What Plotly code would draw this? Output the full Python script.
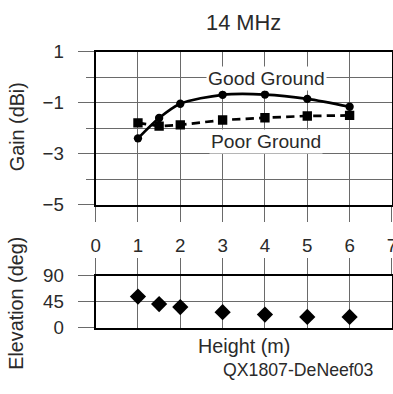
import plotly.graph_objects as go

# Antenna height (m) for each modelled point
heights = [1, 1.5, 2, 3, 4, 5, 6]
# Maximum gain (dBi) over good and poor ground
gain_good = [-2.4, -1.6, -1.04, -0.69, -0.68, -0.85, -1.16]
gain_poor = [-1.79, -1.92, -1.87, -1.68, -1.59, -1.52, -1.5]
# Elevation angle of maximum radiation (deg)
elevation = [54, 41, 36, 27, 23, 19, 19]

gain_ticks = [1, -1, -3, -5]
elev_ticks = [0, 45, 90]
height_ticks = [0, 1, 2, 3, 4, 5, 6, 7]

# Layout is laid out on a 393 x 394 design grid; the page keeps the
# default 8 px body margin, so the figure is scaled to fill 409 x 410.
DESIGN_W, DESIGN_H = 393, 394
OFF = 8
S = (DESIGN_W + 2 * OFF) / DESIGN_W
W, H = DESIGN_W + OFF, DESIGN_H + OFF
FONT = "Liberation Sans, Arial, sans-serif"
TEXT = "#2a2a2a"
GRID = "#6a6a6a"


def px(x):
    """Design x pixel -> paper fraction."""
    return (x * S - OFF) / W


def py(y):
    """Design y pixel -> paper fraction (measured from the top)."""
    return 1 - (y * S - OFF) / H


def sz(v):
    return round(v * S, 2)


def isz(v):
    return int(round(v * S))


fig = go.Figure()

fig.add_trace(go.Scatter(
    x=heights, y=gain_good, mode="lines+markers",
    line=dict(color="black", width=sz(2.6), shape="spline", smoothing=0.8),
    marker=dict(symbol="circle", size=sz(8), color="black"),
    xaxis="x", yaxis="y", showlegend=False))
fig.add_trace(go.Scatter(
    x=heights, y=gain_poor, mode="lines+markers",
    line=dict(color="black", width=sz(2.6), dash=f"{sz(8)}px,{sz(5)}px"),
    marker=dict(symbol="square", size=sz(9), color="black"),
    xaxis="x", yaxis="y", showlegend=False))
fig.add_trace(go.Scatter(
    x=heights, y=elevation, mode="markers",
    marker=dict(symbol="diamond", size=sz(12), color="black"),
    xaxis="x2", yaxis="y2", showlegend=False))

axis_common = dict(showline=True, linecolor="black", linewidth=sz(2), mirror=True,
                   showgrid=True, gridcolor=GRID, gridwidth=1, zeroline=False,
                   tickcolor=GRID, tickwidth=1, ticklabeloverflow="allow",
                   tickfont=dict(family=FONT, size=sz(18), color=TEXT))

fig.update_layout(
    width=W, height=H,
    margin=dict(l=0, r=0, t=0, b=0),
    paper_bgcolor="white", plot_bgcolor="white",
    xaxis=dict(axis_common, domain=[px(97), px(389)], range=[0, 7],
               tickvals=height_ticks, ticks="outside", ticklen=isz(14),
               ticklabelstandoff=isz(8), anchor="y"),
    yaxis=dict(axis_common, domain=[py(205), py(50)], range=[-5, 1],
               tickvals=gain_ticks, ticktext=["1", "\u22121", "\u22123", "\u22125"],
               ticks="outside", ticklen=isz(15), ticklabelstandoff=isz(10),
               minor=dict(tickvals=[0, -2, -4], ticks="outside", ticklen=isz(8),
                          tickcolor=GRID, showgrid=True, gridcolor=GRID, gridwidth=1),
               anchor="x"),
    xaxis2=dict(axis_common, domain=[px(97), px(389)], range=[0, 7],
                tickvals=height_ticks, ticks="outside", ticklen=isz(15),
                side="top", showticklabels=False, anchor="y2"),
    yaxis2=dict(axis_common, domain=[py(330), py(277)], range=[0, 90],
                tickvals=elev_ticks, ticks="outside", ticklen=isz(15),
                ticklabelstandoff=isz(10), anchor="x2"),
)

annots = [
    dict(text="14 MHz", x=px(243), y=py(20), size=21),
    dict(text="Gain (dBi)", x=px(19), y=py(126), size=19, textangle=-90),
    dict(text="Elevation (deg)", x=px(19), y=py(305), size=19, textangle=-90),
    dict(text="Height (m)", x=px(243), y=py(348), size=19),
    dict(text="QX1807-DeNeef03", x=px(297), y=py(373), size=17),
]
for a in annots:
    fig.add_annotation(text=a["text"], x=a["x"], y=a["y"], xref="paper", yref="paper",
                       showarrow=False, textangle=a.get("textangle", 0),
                       xanchor="center", yanchor="middle",
                       font=dict(family=FONT, size=sz(a["size"]), color=TEXT))

fig.add_annotation(text="Good Ground", x=4.03, y=-0.05, xref="x", yref="y",
                   showarrow=False, bgcolor="white", borderpad=1,
                   font=dict(family=FONT, size=sz(18.5), color=TEXT))
fig.add_annotation(text="Poor Ground", x=4.03, y=-2.53, xref="x", yref="y",
                   showarrow=False, bgcolor="white", borderpad=1,
                   font=dict(family=FONT, size=sz(18.5), color=TEXT))

fig.write_html("out.html")
